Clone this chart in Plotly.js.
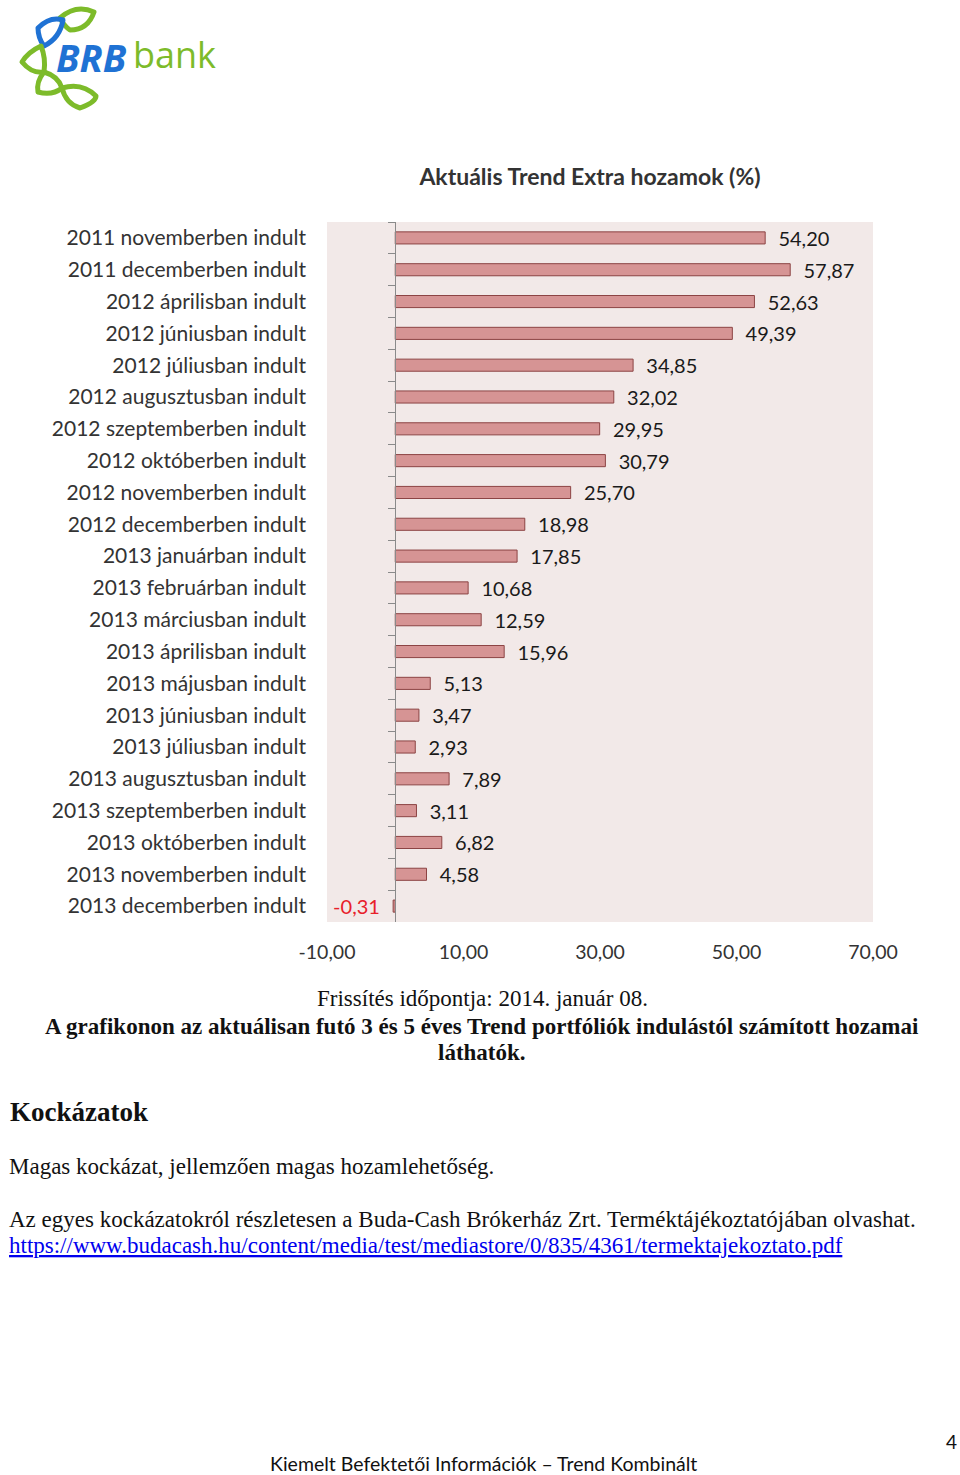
<!DOCTYPE html>
<html>
<head>
<meta charset="utf-8">
<script src="https://cdn.plot.ly/plotly-3.0.1.min.js"></script>
<style>
html,body{margin:0;padding:0;background:#fff;}
#chart{width:960px;height:1475px;}
</style>
</head>
<body>
<div id="chart"></div>
<script>
const categories = ["2011 novemberben indult","2011 decemberben indult","2012 áprilisban indult","2012 júniusban indult","2012 júliusban indult","2012 augusztusban indult","2012 szeptemberben indult","2012 októberben indult","2012 novemberben indult","2012 decemberben indult","2013 januárban indult","2013 februárban indult","2013 márciusban indult","2013 áprilisban indult","2013 májusban indult","2013 júniusban indult","2013 júliusban indult","2013 augusztusban indult","2013 szeptemberben indult","2013 októberben indult","2013 novemberben indult","2013 decemberben indult"];
const values = [54.20,57.87,52.63,49.39,34.85,32.02,29.95,30.79,25.70,18.98,17.85,10.68,12.59,15.96,5.13,3.47,2.93,7.89,3.11,6.82,4.58,-0.31];
const xTicks = [-10,10,30,50,70];
const chartTitle = "Aktuális Trend Extra hozamok (%)";

const W = 960, H = 1475;
const ML = 327, MR = 87, MT = 222, MB = 553;
const PW = W - ML - MR, PH = H - MT - MB;
const fx = p => (p - ML) / PW;
const fy = p => (H - MB - p) / PH;

const fmt = v => v.toFixed(2).replace('.', ',');
const pad = '\u00a0\u00a0';
const labels = values.map(v => v < 0 ? fmt(v) + pad : pad + fmt(v));
const labelColors = values.map(v => v < 0 ? '#e8202a' : '#1a1a1a');
const xTickText = xTicks.map(fmt);

const sansFont = 'Lato, "Open Sans", sans-serif';
const serifFont = '"Liberation Serif", "Times New Roman", serif';

const traces = [
  {
    type: 'bar', orientation: 'h', y: categories, x: values, yaxis: 'y2',
    marker: {color: 'rgba(0,0,0,0)'}, hoverinfo: 'skip', showlegend: false
  },
  {
    type: 'bar', orientation: 'h', y: categories, x: values,
    marker: {color: '#d69494', line: {color: '#8c4444', width: 1}},
    text: labels, textposition: 'outside', cliponaxis: false, constraintext: 'none',
    textfont: {family: sansFont, size: 20, color: labelColors},
    showlegend: false
  }
];

const logoSvg = '<svg xmlns="http://www.w3.org/2000/svg" width="100" height="110" viewBox="0 0 100 110">' +
  '<g fill="none" stroke-width="5" stroke-linejoin="round">' +
  '<path d="M52 16 Q68 2 86 10 Q80 28 62 28 Q56 24 52 16 Z" stroke="#7dbb2a"/>' +
  '<path d="M30 26 Q42 14 55 18 Q52 36 36 44 Q30 36 30 26 Z" stroke="#1f72d4"/>' +
  '<path d="M33 44 Q20 50 14 60 Q24 72 36 70 Q38 56 33 44 Z" stroke="#7dbb2a"/>' +
  '<path d="M36 70 Q28 80 30 90 Q44 94 54 86 Q50 74 36 70 Z" stroke="#7dbb2a"/>' +
  '<path d="M54 86 Q58 102 72 106 Q88 100 88 94 Q74 80 54 86 Z" stroke="#7dbb2a"/>' +
  '</g></svg>';

const annotations = [
  {text: '<b><i>BRB</i></b>', x: fx(54), y: fy(57), xanchor: 'left', yanchor: 'middle', font: {family: '"Open Sans", sans-serif', size: 38, color: '#1f72d4'}},
  {text: 'bank', x: fx(131), y: fy(55), xanchor: 'left', yanchor: 'middle', font: {family: '"Open Sans", sans-serif', size: 36, color: '#7dbb2a'}},
  {text: 'Frissítés időpontja: 2014. január 08.', x: fx(482), y: fy(998), xanchor: 'center', yanchor: 'middle', font: {family: serifFont, size: 23, color: '#111'}},
  {text: '<b>A grafikonon az aktuálisan futó 3 és 5 éves Trend portfóliók indulástól számított hozamai</b>', x: fx(482), y: fy(1026), xanchor: 'center', yanchor: 'middle', font: {family: serifFont, size: 23, color: '#111'}},
  {text: '<b>láthatók.</b>', x: fx(482), y: fy(1052), xanchor: 'center', yanchor: 'middle', font: {family: serifFont, size: 23, color: '#111'}},
  {text: '<b>Kockázatok</b>', x: fx(8), y: fy(1112), xanchor: 'left', yanchor: 'middle', font: {family: serifFont, size: 27, color: '#111'}},
  {text: 'Magas kockázat, jellemzően magas hozamlehetőség.', x: fx(7), y: fy(1166), xanchor: 'left', yanchor: 'middle', font: {family: serifFont, size: 23, color: '#111'}},
  {text: 'Az egyes kockázatokról részletesen a Buda-Cash Brókerház Zrt. Terméktájékoztatójában olvashat.', x: fx(7), y: fy(1219), xanchor: 'left', yanchor: 'middle', font: {family: serifFont, size: 23, color: '#111'}},
  {text: '<span style="text-decoration:underline">https://www.budacash.hu/content/media/test/mediastore/0/835/4361/termektajekoztato.pdf</span>', x: fx(7), y: fy(1245), xanchor: 'left', yanchor: 'middle', font: {family: serifFont, size: 23, color: '#0000ee'}},
  {text: '4', x: fx(951), y: fy(1441), xanchor: 'center', yanchor: 'middle', font: {family: sansFont, size: 19, color: '#111'}},
  {text: 'Kiemelt Befektetői Információk – Trend Kombinált', x: fx(483), y: fy(1463), xanchor: 'center', yanchor: 'middle', font: {family: sansFont, size: 19.5, color: '#111'}}
].map(a => Object.assign({xref: 'paper', yref: 'paper', showarrow: false}, a));

const layout = {
  width: W, height: H,
  margin: {l: ML, r: MR, t: MT, b: MB, pad: 0},
  paper_bgcolor: '#ffffff',
  plot_bgcolor: '#f2e9e8',
  separators: ', ',
  bargap: 0.62,
  showlegend: false,
  title: {
    text: '<b>' + chartTitle + '</b>',
    xref: 'paper', x: fx(590), xanchor: 'center',
    yref: 'container', y: 1 - 177 / H, yanchor: 'middle',
    font: {family: sansFont, size: 23, color: '#333'}
  },
  xaxis: {
    range: [xTicks[0], xTicks[xTicks.length - 1]],
    tickmode: 'array', tickvals: xTicks, ticktext: xTickText,
    showgrid: false, zeroline: false, showline: false, ticks: '',
    ticklabelstandoff: 16,
    tickfont: {family: sansFont, size: 19.5, color: '#333'},
    fixedrange: true
  },
  yaxis: {
    type: 'category', autorange: 'reversed',
    showgrid: false, zeroline: false, showline: false, ticks: '',
    ticklabelstandoff: 20,
    tickfont: {family: sansFont, size: 21, color: '#333'},
    fixedrange: true
  },
  yaxis2: {
    type: 'category', autorange: 'reversed', overlaying: 'y',
    anchor: 'free', side: 'left',
    position: (0 - xTicks[0]) / (xTicks[xTicks.length - 1] - xTicks[0]),
    showgrid: false, zeroline: false,
    showline: true, linecolor: '#8a8a8a', linewidth: 1,
    ticks: 'outside', tickson: 'boundaries', ticklen: 7, tickcolor: '#8a8a8a',
    showticklabels: false, fixedrange: true
  },
  images: [{
    source: 'data:image/svg+xml;charset=utf-8,' + encodeURIComponent(logoSvg),
    xref: 'paper', yref: 'paper',
    x: fx(8), y: fy(2), sizex: 100 / PW, sizey: 110 / PH,
    xanchor: 'left', yanchor: 'top', sizing: 'stretch', layer: 'above'
  }],
  annotations: annotations
};

Plotly.newPlot('chart', traces, layout, {displayModeBar: false, staticPlot: true});
</script>
</body>
</html>
